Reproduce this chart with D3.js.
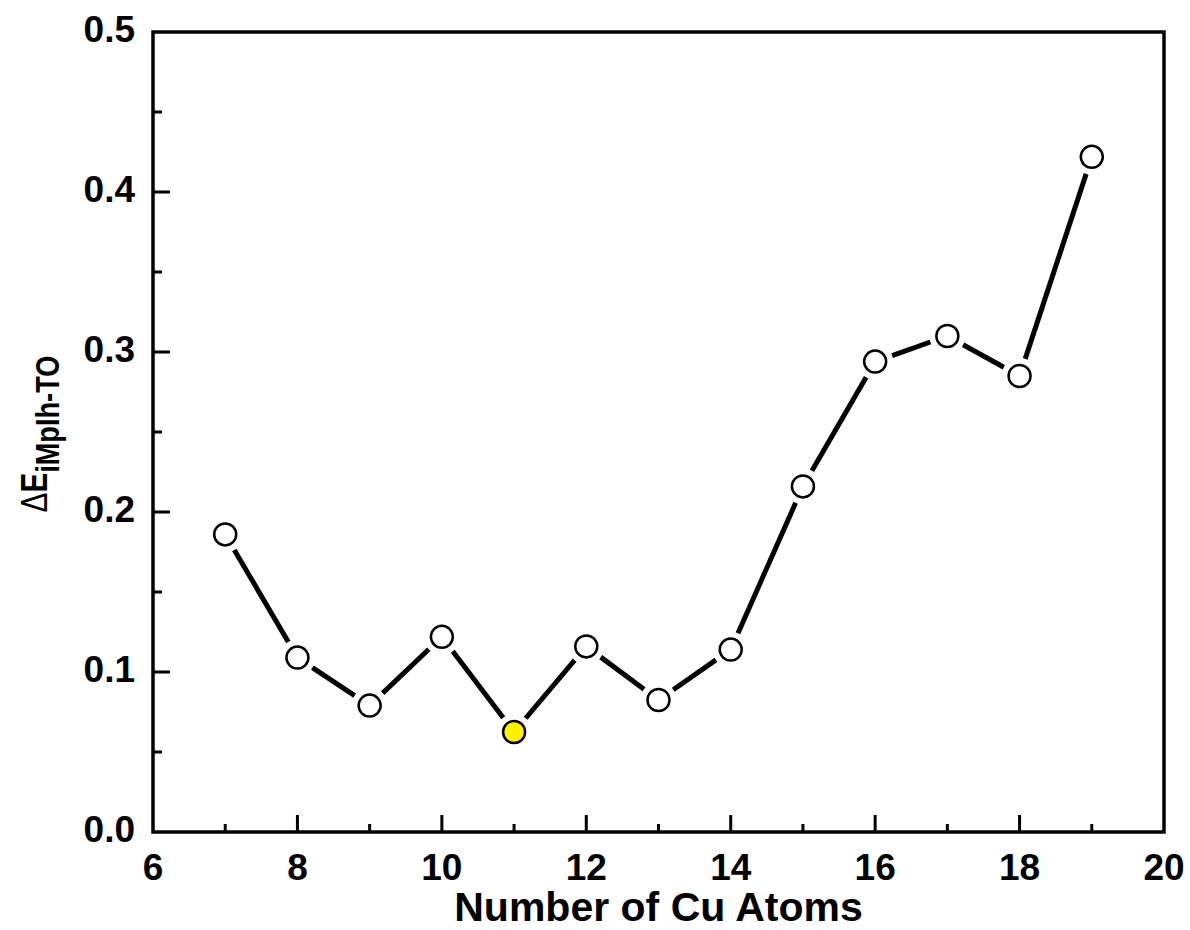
<!DOCTYPE html>
<html>
<head>
<meta charset="utf-8">
<script src="https://cdn.jsdelivr.net/npm/d3@7"></script>
<style>
  body { margin: 0; background: #fff; }
  text { font-family: Arial, "Liberation Sans", sans-serif; font-weight: bold; fill: #000; }
</style>
</head>
<body>
<div id="chart"></div>
<script>
// cluster size and energy difference
let atoms = [7, 8, 9, 10, 11, 12, 13, 14, 15, 16, 17, 18, 19]
let energy = [0.186, 0.109, 0.079, 0.122, 0.0625, 0.116, 0.0825, 0.114, 0.216, 0.294, 0.310, 0.285, 0.422]
let highlight = [11]
let xTicks = [6, 8, 10, 12, 14, 16, 18, 20]
let yTicks = [0.0, 0.1, 0.2, 0.3, 0.4, 0.5]

let margin = { top: 32, left: 153, right: 26, bottom: 98 }
let width = 1190 - margin.left - margin.right
let height = 930 - margin.top - margin.bottom

let svg = d3.select('#chart')
  .append('svg')
  .attr('width', 1190)
  .attr('height', 930)
  .append('g')
  .attr('transform', `translate(${margin.left},${margin.top})`)

let x = d3.scaleLinear().domain([6, 20]).range([0, width])
let y = d3.scaleLinear().domain([0, 0.5]).range([height, 0])

let points = atoms.map((a, i) => ({ n: a, v: energy[i] }))

// minor ticks halfway between the labelled ones
let xMinor = d3.range(7, 20, 2)
let yMinor = d3.range(0.05, 0.5, 0.1)

let tickW = 3
svg.selectAll('.xmajor').data(xTicks.slice(1, -1)).enter().append('line')
  .attr('x1', d => x(d)).attr('x2', d => x(d))
  .attr('y1', height).attr('y2', height - 17)
  .attr('stroke', '#000').attr('stroke-width', tickW)
svg.selectAll('.xminor').data(xMinor).enter().append('line')
  .attr('x1', d => x(d)).attr('x2', d => x(d))
  .attr('y1', height).attr('y2', height - 8)
  .attr('stroke', '#000').attr('stroke-width', tickW)
svg.selectAll('.ymajor').data(yTicks.slice(1, -1)).enter().append('line')
  .attr('x1', 0).attr('x2', 17)
  .attr('y1', d => y(d)).attr('y2', d => y(d))
  .attr('stroke', '#000').attr('stroke-width', tickW)
svg.selectAll('.yminor').data(yMinor).enter().append('line')
  .attr('x1', 0).attr('x2', 9)
  .attr('y1', d => y(d)).attr('y2', d => y(d))
  .attr('stroke', '#000').attr('stroke-width', tickW)

svg.append('rect')
  .attr('width', width).attr('height', height)
  .attr('fill', 'none').attr('stroke', '#000').attr('stroke-width', 3.5)

svg.selectAll('.xlabel').data(xTicks).enter().append('text')
  .attr('x', d => x(d)).attr('y', height + 48)
  .attr('text-anchor', 'middle').attr('font-size', 37)
  .text(d => d)

svg.selectAll('.ylabel').data(yTicks).enter().append('text')
  .attr('x', -18).attr('y', d => y(d) + 10)
  .attr('text-anchor', 'end').attr('font-size', 37)
  .text(d => d.toFixed(1))

svg.append('text')
  .attr('x', width / 2).attr('y', height + 89)
  .attr('text-anchor', 'middle').attr('font-size', 41)
  .text('Number of Cu Atoms')

// the original title font is narrower, so squeeze it along its length
let ytitle = svg.append('text')
  .attr('transform', `translate(${-106},${height / 2 + 2}) rotate(-90) scale(0.8,1)`)
  .attr('text-anchor', 'middle')
  .attr('font-size', 37)
ytitle.append('tspan').style('font-weight', 'normal').text('Δ')
ytitle.append('tspan').text('E')
ytitle.append('tspan').attr('font-size', 34).attr('dy', 12).text('iMpIh-TO')

// connecting segments stop short of the markers
let r = 11
let gap = 18
let segs = d3.pairs(points).map(([a, b]) => {
  let x1 = x(a.n), y1 = y(a.v), x2 = x(b.n), y2 = y(b.v)
  let len = Math.hypot(x2 - x1, y2 - y1)
  let ux = (x2 - x1) / len, uy = (y2 - y1) / len
  return [x1 + ux * gap, y1 + uy * gap, x2 - ux * gap, y2 - uy * gap]
})

svg.selectAll('.seg').data(segs).enter().append('line')
  .attr('x1', d => d[0]).attr('y1', d => d[1])
  .attr('x2', d => d[2]).attr('y2', d => d[3])
  .attr('stroke', '#000').attr('stroke-width', 5)

svg.selectAll('.pt').data(points).enter().append('circle')
  .attr('cx', d => x(d.n)).attr('cy', d => y(d.v)).attr('r', r)
  .attr('fill', d => highlight.includes(d.n) ? '#fff000' : '#fff')
  .attr('stroke', '#000').attr('stroke-width', 2.5)
</script>
</body>
</html>
